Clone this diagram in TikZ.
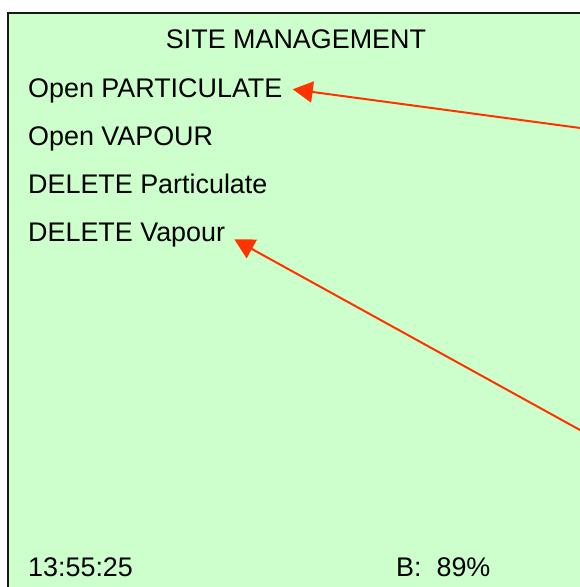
\documentclass[tikz,border=0pt]{standalone}
\usepackage{fontspec}
\setmainfont{Liberation Sans}
\usetikzlibrary{arrows.meta}
\definecolor{screenbg}{RGB}{204,255,204}
\definecolor{arrowred}{RGB}{255,51,0}
\definecolor{frame}{RGB}{25,25,25}
\begin{document}
\begin{tikzpicture}[x=1pt,y=-1pt,
  label/.style={anchor=base west,inner sep=0pt,font=\fontsize{26.9}{32}\selectfont,text=black},
  pointer/.style={draw=arrowred,line width=2pt,-{Triangle[length=20pt,width=21pt]}}]
\useasboundingbox (0,0) rectangle (580,587);
\clip (0,0) rectangle (580,587);
\fill[white] (0,0) rectangle (580,587);
\draw[fill=screenbg,draw=frame,line width=2pt] (8,12.8) rectangle (620,630);
\node[anchor=base,inner sep=0pt,font=\fontsize{26.9}{32}\selectfont] (title) at (296,48.5) {SITE MANAGEMENT};
\node[label] (t1) at (28,97) {Open PARTICULATE};
\node[label] (t2) at (28,145.5) {Open VAPOUR};
\node[label] (t3) at (28,193) {DELETE Particulate};
\node[label] (t4) at (28,241.5) {DELETE Vapour};
\node[label] (clock) at (28,576) {13:55:25};
\node[label] (batt) at (396,576) {B:\ \ 89\%};
\coordinate (s1) at (584,128.5);
\coordinate (e1) at (292.7,89.3);
\coordinate (s2) at (584,432.2);
\coordinate (e2) at (234.3,239.3);
\draw[pointer] (s1) -- (e1);
\draw[pointer] (s2) -- (e2);
\end{tikzpicture}
\end{document}
